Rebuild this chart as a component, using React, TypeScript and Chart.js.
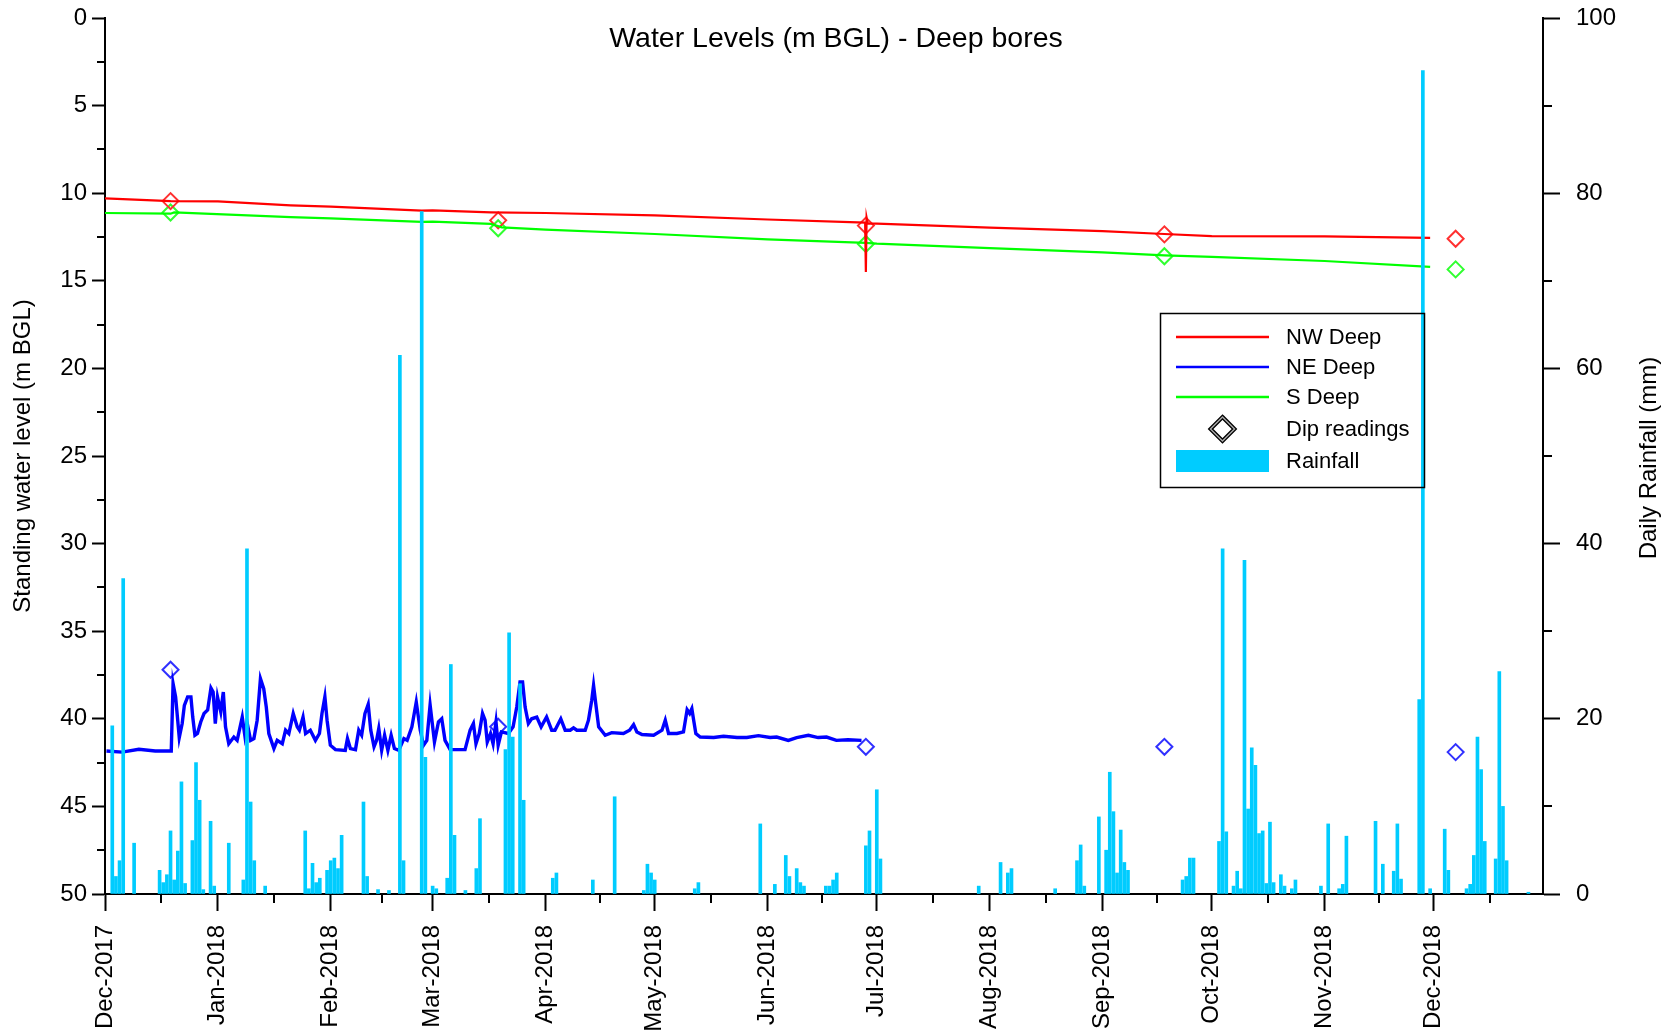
import React, { useEffect, useRef } from 'react';
import { Chart, registerables } from 'chart.js';

Chart.register(...registerables);

const FONT = '"Liberation Sans", Arial, Helvetica, sans-serif';

// ---------- data ----------
const START_DATE = '2017-12-01';
const END_DATE = '2018-12-31';

const monthStarts = [
  '2017-12-01', '2018-01-01', '2018-02-01', '2018-03-01', '2018-04-01', '2018-05-01', '2018-06-01',
  '2018-07-01', '2018-08-01', '2018-09-01', '2018-10-01', '2018-11-01', '2018-12-01',
];
const monthLabels = [
  'Dec-2017', 'Jan-2018', 'Feb-2018', 'Mar-2018', 'Apr-2018', 'May-2018', 'Jun-2018',
  'Jul-2018', 'Aug-2018', 'Sep-2018', 'Oct-2018', 'Nov-2018', 'Dec-2018',
];
const nextMonthAfterLast = '2019-01-01';

const levelTicks = [0, 5, 10, 15, 20, 25, 30, 35, 40, 45, 50];
const rainTicks = [0, 20, 40, 60, 80, 100];

// Daily rainfall (mm)
const rainDates = [
  '2017-12-03', '2017-12-04', '2017-12-05', '2017-12-06', '2017-12-09', '2017-12-16', '2017-12-17', '2017-12-18', '2017-12-19', '2017-12-20', '2017-12-21', '2017-12-22', '2017-12-23', '2017-12-25', '2017-12-26', '2017-12-27', '2017-12-28', '2017-12-30', '2017-12-31',
  '2018-01-04', '2018-01-08', '2018-01-09', '2018-01-10', '2018-01-11', '2018-01-14', '2018-01-25', '2018-01-26', '2018-01-27', '2018-01-28', '2018-01-29', '2018-01-31',
  '2018-02-01', '2018-02-02', '2018-02-03', '2018-02-04', '2018-02-10', '2018-02-11', '2018-02-14', '2018-02-17', '2018-02-20', '2018-02-21', '2018-02-26', '2018-02-27',
  '2018-03-01', '2018-03-02', '2018-03-05', '2018-03-06', '2018-03-07', '2018-03-10', '2018-03-13', '2018-03-14', '2018-03-21', '2018-03-22', '2018-03-23', '2018-03-25', '2018-03-26',
  '2018-04-03', '2018-04-04', '2018-04-14', '2018-04-20', '2018-04-28', '2018-04-29', '2018-04-30', '2018-05-01', '2018-05-12', '2018-05-13', '2018-05-30',
  '2018-06-03', '2018-06-06', '2018-06-07', '2018-06-09', '2018-06-10', '2018-06-11', '2018-06-17', '2018-06-18', '2018-06-19', '2018-06-20', '2018-06-28', '2018-06-29', '2018-07-01', '2018-07-02',
  '2018-07-29', '2018-08-04', '2018-08-06', '2018-08-07', '2018-08-19', '2018-08-25', '2018-08-26', '2018-08-27', '2018-08-31', '2018-09-02', '2018-09-03', '2018-09-04', '2018-09-05', '2018-09-06', '2018-09-07', '2018-09-08', '2018-09-23', '2018-09-24', '2018-09-25', '2018-09-26',
  '2018-10-03', '2018-10-04', '2018-10-05', '2018-10-07', '2018-10-08', '2018-10-09', '2018-10-10', '2018-10-11', '2018-10-12', '2018-10-13', '2018-10-14', '2018-10-15', '2018-10-16', '2018-10-17', '2018-10-18', '2018-10-20', '2018-10-21', '2018-10-23', '2018-10-24', '2018-10-31',
  '2018-11-02', '2018-11-05', '2018-11-06', '2018-11-07', '2018-11-15', '2018-11-17', '2018-11-20', '2018-11-21', '2018-11-22', '2018-11-27', '2018-11-28', '2018-11-30',
  '2018-12-04', '2018-12-05', '2018-12-10', '2018-12-11', '2018-12-12', '2018-12-13', '2018-12-14', '2018-12-15', '2018-12-18', '2018-12-19', '2018-12-20', '2018-12-21', '2018-12-27',
];
const rainMM = [
  19.2, 2.0, 3.8, 36.0, 5.8, 2.7, 1.3, 2.2, 7.2, 1.6, 4.9, 12.8, 1.2, 6.1, 15.0, 10.7, 0.5, 8.3, 0.9,
  5.8, 1.6, 39.4, 10.5, 3.8, 0.9, 7.2, 0.6, 3.5, 1.3, 1.8, 2.7,
  3.8, 4.1, 2.9, 6.7, 10.5, 2.0, 0.5, 0.4, 61.5, 3.8, 77.9, 15.6,
  0.9, 0.6, 1.8, 26.2, 6.7, 0.4, 2.9, 8.6, 16.5, 29.8, 17.9, 24.0, 10.7,
  1.8, 2.4, 1.6, 11.1, 0.4, 3.4, 2.4, 1.6, 0.6, 1.3, 8.0,
  1.1, 4.4, 2.0, 2.9, 1.3, 0.9, 0.9, 0.9, 1.6, 2.4, 5.5, 7.2, 11.9, 4.0,
  0.9, 3.6, 2.4, 2.9, 0.6, 3.8, 5.6, 0.9, 8.8, 5.0, 13.9, 9.4, 2.4, 7.3, 3.6, 2.7, 1.6, 2.0, 4.1, 4.1,
  6.0, 39.4, 7.1, 0.9, 2.6, 0.6, 38.1, 9.7, 16.7, 14.7, 6.9, 7.2, 1.2, 8.2, 1.3, 2.2, 0.9, 0.6, 1.6, 0.9,
  8.0, 0.6, 1.1, 6.6, 8.3, 3.4, 2.6, 8.0, 1.7, 22.2, 94.0, 0.6,
  7.4, 2.7, 0.6, 1.1, 4.4, 17.9, 14.2, 6.0, 4.0, 25.4, 10.0, 3.8, 0.2,
];

// Logger water levels (m BGL); x = days since 1 Dec 2017
const nwDay = [0, 18, 31, 51, 62, 87, 90, 106, 121, 151, 182, 208.8, 209, 209.2, 209.5, 212, 243, 274, 291, 304, 335, 364];
const nwLevel = [10.3, 10.45, 10.47, 10.69, 10.77, 11.0, 10.98, 11.09, 11.13, 11.27, 11.5, 11.68, 14.5, 11.4, 11.72, 11.74, 11.97, 12.17, 12.33, 12.45, 12.47, 12.55];

const sDay = [0, 18, 19, 51, 62, 87, 90, 106, 109, 121, 151, 182, 209, 212, 243, 274, 291, 304, 335, 364];
const sLevel = [11.13, 11.17, 11.1, 11.36, 11.44, 11.64, 11.62, 11.75, 11.95, 12.08, 12.33, 12.63, 12.83, 12.88, 13.13, 13.38, 13.55, 13.63, 13.87, 14.2];

const neDay = [
  0.4, 4.7, 9.3, 13.8, 18.2, 18.7, 19.4, 20.4, 21.2, 21.8, 22.7, 23.6, 24.1, 24.7, 25.4, 26.3, 27.2, 28.2, 29.1, 29.7,
  30.3, 30.9, 31.8, 32.5, 33.1, 34.0, 35.4, 36.3, 37.7, 38.4, 39.0, 40.0, 40.9, 41.8, 42.7, 43.6, 44.3, 45.0, 46.4, 47.3,
  48.7, 49.6, 50.5, 51.7, 52.8, 53.4, 54.4, 55.1, 56.4, 57.8, 58.9, 59.6, 60.4, 61.0, 61.9, 63.3, 66.0, 66.6, 67.4, 68.8,
  69.7, 70.5, 71.4, 72.3, 73.0, 73.9, 74.6, 75.2, 76.0, 76.8, 77.7, 78.6, 79.5, 80.7, 82.1, 83.0, 84.3, 85.5, 86.6, 87.5,
  88.4, 89.3, 90.5, 91.6, 92.5, 93.4, 94.8, 98.9, 100.3, 101.2, 101.9, 102.8, 103.7, 104.4, 105.0, 105.9, 106.6, 107.4, 108.0, 108.9,
  110.8, 112.1, 113.1, 114.0, 114.7, 115.4, 116.3, 117.2, 118.6, 119.8, 121.3, 122.7, 123.6, 125.2, 126.4, 127.8, 128.7, 129.6, 131.9, 132.8,
  133.7, 134.2, 134.8, 135.6, 137.4, 139.2, 142.4, 144.1, 145.2, 146.1, 147.5, 150.7, 153.0, 153.9, 154.8, 157.1, 158.9, 159.9, 160.6, 161.2,
  161.7, 162.3, 163.5, 167.2, 169.9, 173.6, 176.3, 179.5, 182.7, 184.5, 187.7, 190.0, 193.2, 195.9, 198.2, 200.9, 204.1, 207.8,
];
const neLevel = [
  41.84, 41.9, 41.74, 41.84, 41.84, 37.99, 38.75, 41.07, 40.27, 39.23, 38.75, 38.75, 39.9, 40.94, 40.84, 40.18, 39.7, 39.5, 38.24, 38.47,
  40.27, 38.75, 39.6, 38.47, 40.46, 41.42, 41.04, 41.23, 39.9, 40.94, 40.18, 41.23, 41.13, 40.08, 37.71, 38.28, 39.33, 40.84, 41.7, 41.23,
  41.42, 40.65, 40.84, 39.7, 40.46, 40.65, 39.9, 40.84, 40.65, 41.23, 40.84, 39.7, 38.75, 40.08, 41.51, 41.76, 41.8, 41.13, 41.7, 41.76,
  40.65, 40.94, 39.7, 39.17, 40.65, 41.6, 41.23, 40.56, 41.8, 40.94, 41.8, 40.94, 41.7, 41.8, 41.13, 41.23, 40.46, 39.04, 40.65, 41.51,
  41.23, 39.2, 41.32, 40.18, 40.0, 41.23, 41.76, 41.76, 40.65, 40.27, 41.42, 40.84, 39.7, 40.08, 41.32, 40.84, 41.42, 40.18, 41.51, 40.75,
  40.84, 40.46, 39.33, 37.9, 37.9, 39.33, 40.27, 40.0, 39.9, 40.46, 39.9, 40.65, 40.65, 40.0, 40.65, 40.65, 40.52, 40.65, 40.65, 40.08,
  38.94, 38.09, 39.13, 40.46, 40.94, 40.79, 40.84, 40.65, 40.33, 40.75, 40.9, 40.94, 40.65, 40.08, 40.84, 40.84, 40.75, 39.48, 39.7, 39.42,
  40.08, 40.84, 41.04, 41.07, 41.0, 41.07, 41.07, 40.96, 41.07, 41.04, 41.23, 41.07, 40.94, 41.07, 41.04, 41.23, 41.2, 41.23,
];

// Manual dip readings (m BGL)
const dipDates = ['2017-12-19', '2018-03-19', '2018-06-28', '2018-09-18', '2018-12-07'];
const dipNW = [10.45, 11.55, 11.85, 12.35, 12.6];
const dipNE = [37.2, 40.45, 41.6, 41.6, 41.9];
const dipS = [11.1, 12.0, 12.9, 13.6, 14.35];

// ---------- helpers ----------
const MS_DAY = 86400000;
const toUTC = (iso: string) => {
  const [y, m, d] = iso.split('-').map(Number);
  return Date.UTC(y, m - 1, d);
};
const dayIndex = (iso: string) => Math.round((toUTC(iso) - toUTC(START_DATE)) / MS_DAY);

const monthTickValues = monthStarts.map(dayIndex);
const monthEdges = [...monthTickValues, dayIndex(nextMonthAfterLast)];
const xMinor = monthEdges.slice(0, -1).map((v, i) => (v + monthEdges[i + 1]) / 2);
const yMinor = levelTicks.slice(0, -1).map((v, i) => (v + levelTicks[i + 1]) / 2);
const y2Minor = rainTicks.slice(0, -1).map((v, i) => (v + rainTicks[i + 1]) / 2);

const pts = (xs: number[], ys: number[]) => xs.map((x, i) => ({ x, y: ys[i] }));

const C = {
  nw: '#ff0000',
  ne: '#0000ff',
  s: '#00ff00',
  nwDip: '#ff3030',
  neDip: '#3030ff',
  sDip: '#30ff30',
  rain: '#00ccff',
};

const noPad = (scale: any) => {
  scale.paddingTop = 0;
  scale.paddingBottom = 0;
  scale.paddingLeft = 0;
  scale.paddingRight = 0;
};

const decorations = {
  id: 'decorations',
  afterDraw(chart: any) {
    const { ctx, chartArea, scales } = chart;
    const { x, y, y2 } = scales;
    ctx.save();
    // minor ticks
    ctx.strokeStyle = '#000';
    ctx.lineWidth = 2;
    ctx.beginPath();
    for (const v of xMinor) {
      const px = Math.round(x.getPixelForValue(v));
      ctx.moveTo(px, chartArea.bottom);
      ctx.lineTo(px, chartArea.bottom + 9);
    }
    for (const v of yMinor) {
      const py = Math.round(y.getPixelForValue(v));
      ctx.moveTo(chartArea.left, py);
      ctx.lineTo(chartArea.left - 8, py);
    }
    for (const v of y2Minor) {
      const py = Math.round(y2.getPixelForValue(v));
      ctx.moveTo(chartArea.right, py);
      ctx.lineTo(chartArea.right + 9, py);
    }
    ctx.stroke();

    // title
    ctx.fillStyle = '#000';
    ctx.font = `28.5px ${FONT}`;
    ctx.textAlign = 'center';
    ctx.textBaseline = 'middle';
    ctx.fillText('Water Levels (m BGL) - Deep bores', 836, 39);

    // right axis title (reads bottom to top)
    ctx.save();
    ctx.translate(1649, 458);
    ctx.rotate(-Math.PI / 2);
    ctx.font = `24px ${FONT}`;
    ctx.fillText('Daily Rainfall (mm)', 0, 0);
    ctx.restore();

    // legend box
    const bx = 1160, by = 313, bw = 264, bh = 174;
    ctx.lineWidth = 1.5;
    ctx.strokeStyle = '#000';
    ctx.strokeRect(bx + 0.5, by + 0.5, bw, bh);
    const sx1 = 1176, sx2 = 1269, tx = 1286;
    const rows = [337, 367, 397, 429, 461];
    const lineItems = [
      { c: C.nw, t: 'NW Deep' },
      { c: C.ne, t: 'NE Deep' },
      { c: C.s, t: 'S Deep' },
    ];
    ctx.lineWidth = 2.5;
    lineItems.forEach((it, i) => {
      ctx.strokeStyle = it.c;
      ctx.beginPath();
      ctx.moveTo(sx1, rows[i]);
      ctx.lineTo(sx2, rows[i]);
      ctx.stroke();
    });
    // dip marker
    const dcx = (sx1 + sx2) / 2, dcy = rows[3], r = 12;
    ctx.beginPath();
    ctx.moveTo(dcx, dcy - r);
    ctx.lineTo(dcx + r, dcy);
    ctx.lineTo(dcx, dcy + r);
    ctx.lineTo(dcx - r, dcy);
    ctx.closePath();
    ctx.strokeStyle = '#000';
    ctx.lineWidth = 4;
    ctx.stroke();
    ctx.strokeStyle = '#aaaaaa';
    ctx.lineWidth = 1.4;
    ctx.stroke();
    // rainfall swatch
    ctx.fillStyle = C.rain;
    ctx.fillRect(sx1, 450, sx2 - sx1, 22);

    ctx.fillStyle = '#000';
    ctx.font = `22px ${FONT}`;
    ctx.textAlign = 'left';
    ctx.textBaseline = 'middle';
    ['NW Deep', 'NE Deep', 'S Deep', 'Dip readings', 'Rainfall'].forEach((t, i) => {
      ctx.fillText(t, tx, rows[i] + 1);
    });
    ctx.restore();
  },
};

export default function App() {
  const ref = useRef<HTMLCanvasElement | null>(null);

  useEffect(() => {
    document.body.style.margin = '0';
    document.body.style.overflow = 'hidden';
    const canvas = ref.current;
    if (!canvas) return;

    const dipX = dipDates.map(dayIndex);
    const dipSet = (label: string, ys: number[], color: string) => ({
      type: 'line' as const,
      label,
      data: pts(dipX, ys),
      yAxisID: 'y',
      showLine: false,
      pointStyle: 'rectRot',
      pointRadius: 8,
      pointBorderWidth: 2,
      pointBorderColor: color,
      pointBackgroundColor: 'rgba(0,0,0,0)',
      borderColor: color,
      order: 3,
    });
    const lineSet = (label: string, xs: number[], ys: number[], color: string, w: number) => ({
      type: 'line' as const,
      label,
      data: pts(xs, ys),
      yAxisID: 'y',
      borderColor: color,
      borderWidth: w,
      pointRadius: 0,
      tension: 0,
      fill: false,
      order: 2,
    });

    const chart = new Chart(canvas, {
      type: 'line',
      data: {
        datasets: [
          {
            type: 'bar',
            label: 'Rainfall',
            data: rainDates.map((d, i) => ({ x: dayIndex(d), y: rainMM[i] })),
            yAxisID: 'y2',
            backgroundColor: C.rain,
            borderWidth: 0,
            barThickness: 3,
            grouped: false,
            order: 1,
          } as any,
          lineSet('NW Deep', nwDay, nwLevel, C.nw, 2.2),
          lineSet('NE Deep', neDay, neLevel, C.ne, 3.4),
          lineSet('S Deep', sDay, sLevel, C.s, 2.2),
          dipSet('Dip NW', dipNW, C.nwDip),
          dipSet('Dip NE', dipNE, C.neDip),
          dipSet('Dip S', dipS, C.sDip),
        ],
      },
      options: {
        animation: false,
        responsive: false,
        maintainAspectRatio: false,
        layout: { padding: { top: 18, left: 0, right: 0, bottom: 0 } },
        plugins: {
          legend: { display: false },
          tooltip: { enabled: false },
          title: { display: false },
        },
        scales: {
          x: {
            type: 'linear',
            offset: false,
            min: 0,
            max: dayIndex(END_DATE),
            afterBuildTicks: (scale: any) => {
              scale.ticks = monthTickValues.map((v) => ({ value: v }));
            },
            afterFit: (scale: any) => {
              scale.height = 141;
              noPad(scale);
            },
            ticks: {
              autoSkip: false,
              minRotation: 90,
              maxRotation: 90,
              padding: 14,
              color: '#000',
              font: { family: FONT, size: 24 },
              callback: (_v: any, i: number) => monthLabels[i],
            },
            grid: {
              offset: false,
              drawOnChartArea: false,
              drawTicks: true,
              tickLength: 17,
              tickColor: '#000',
              tickWidth: 2,
            },
            border: { display: true, color: '#000', width: 2 },
          },
          y: {
            type: 'linear',
            position: 'left',
            reverse: true,
            min: 0,
            max: 50,
            afterBuildTicks: (scale: any) => {
              scale.ticks = levelTicks.map((v) => ({ value: v }));
            },
            afterFit: (scale: any) => {
              scale.width = 105;
              noPad(scale);
            },
            ticks: {
              padding: 5,
              color: '#000',
              font: { family: FONT, size: 24 },
            },
            grid: {
              drawOnChartArea: false,
              drawTicks: true,
              tickLength: 13,
              tickColor: '#000',
              tickWidth: 2,
            },
            border: { display: true, color: '#000', width: 2 },
            title: {
              display: true,
              text: 'Standing water level (m BGL)',
              color: '#000',
              font: { family: FONT, size: 24 },
              padding: { top: 9, bottom: 0 },
            },
          },
          y2: {
            type: 'linear',
            position: 'right',
            min: 0,
            max: 100,
            afterBuildTicks: (scale: any) => {
              scale.ticks = rainTicks.map((v) => ({ value: v }));
            },
            afterFit: (scale: any) => {
              scale.width = 127;
              noPad(scale);
            },
            ticks: {
              padding: 16,
              color: '#000',
              font: { family: FONT, size: 24 },
            },
            grid: {
              drawOnChartArea: false,
              drawTicks: true,
              tickLength: 17,
              tickColor: '#000',
              tickWidth: 2,
            },
            border: { display: true, color: '#000', width: 2 },
          },
        },
      },
      plugins: [decorations],
    });

    return () => chart.destroy();
  }, []);

  return (
    <div style={{ width: 1670, height: 1035, overflow: 'hidden', background: '#fff' }}>
      <canvas ref={ref} width={1670} height={1035} style={{ display: 'block', width: 1670, height: 1035 }} />
    </div>
  );
}
